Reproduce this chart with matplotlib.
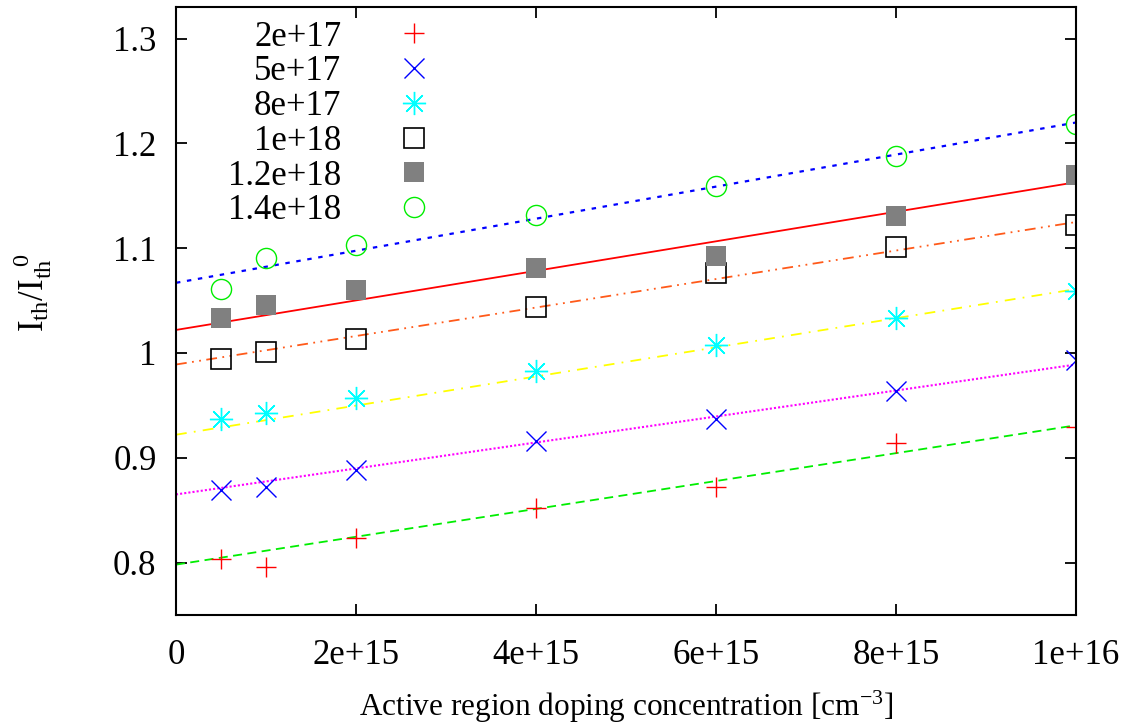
import numpy as np
import matplotlib
matplotlib.use('Agg')
import matplotlib.pyplot as plt
from matplotlib.ticker import FixedLocator

plt.rcParams['font.family'] = 'Liberation Serif'
plt.rcParams['mathtext.fontset'] = 'custom'
plt.rcParams['mathtext.rm'] = 'Liberation Serif'
plt.rcParams['mathtext.it'] = 'Liberation Serif'

# doping of active region [cm^-3]
doping = [5e14, 1e15, 2e15, 4e15, 6e15, 8e15, 1e16]

# Ith/Ith0 for each cladding doping
labels = ['2e+17', '5e+17', '8e+17', '1e+18', '1.2e+18', '1.4e+18']
ratio_2e17 = [0.803, 0.796, 0.823, 0.852, 0.872, 0.914, 0.929]
ratio_5e17 = [0.869, 0.872, 0.888, 0.916, 0.937, 0.964, 0.993]
ratio_8e17 = [0.937, 0.943, 0.957, 0.983, 1.008, 1.033, 1.059]
ratio_1e18 = [0.994, 1.001, 1.013, 1.044, 1.076, 1.101, 1.122]
ratio_12e18 = [1.033, 1.046, 1.060, 1.081, 1.093, 1.131, 1.170]
ratio_14e18 = [1.061, 1.091, 1.103, 1.132, 1.159, 1.188, 1.219]

# linear fits: value at x=0 and at x=1e16
fit_x = [0, 1e16]
fit_2e17 = [0.798, 0.931]
fit_5e17 = [0.865, 0.989]
fit_8e17 = [0.922, 1.061]
fit_1e18 = [0.989, 1.125]
fit_12e18 = [1.022, 1.163]
fit_14e18 = [1.067, 1.220]

fig = plt.figure(figsize=(11.39, 7.26), dpi=100)
ax = fig.add_axes([0.1545, 0.153, 0.7902, 0.837])

# fit lines (no legend)
ax.plot(fit_x, fit_2e17, color='#00ee00', ls=(0, (5, 3)), lw=1.3)
ax.plot(fit_x, fit_5e17, color='#ff00ff', ls=(0, (1, 1)), lw=1.5)
ax.plot(fit_x, fit_8e17, color='#ffff00', ls=(0, (6, 4, 1, 4)), lw=1.3)
ax.plot(fit_x, fit_1e18, color='#ff5a1a', ls=(0, (6, 3, 1, 3, 1, 3)), lw=1.3)
ax.plot(fit_x, fit_12e18, color='#ff0000', ls='-', lw=1.3)
ax.plot(fit_x, fit_14e18, color='#0000ff', ls=(0, (2, 3)), lw=1.6)

# data points
ms = 14.5
ax.plot(doping, ratio_2e17, ls='none', marker='+', ms=ms, mew=1, color='#ff0000', label=labels[0])
ax.plot(doping, ratio_5e17, ls='none', marker='x', ms=ms, mew=1, color='#0000ff', label=labels[1])
ax.plot(doping, ratio_8e17, ls='none', marker=(8, 2, 0), ms=ms * 1.15, mew=1, color='#00ffff', label=labels[2])
ax.plot(doping, ratio_1e18, ls='none', marker='s', ms=ms, mew=1.2, mfc='none', color='black', label=labels[3])
ax.plot(doping, ratio_12e18, ls='none', marker='s', ms=ms, mew=0, color='#808080', label=labels[4])
ax.plot(doping, ratio_14e18, ls='none', marker='o', ms=ms, mew=1, mfc='none', color='#00ee00', label=labels[5])

ax.set_xlim(0, 1e16)
ax.set_ylim(0.75, 1.33)
xt = [0, 2e15, 4e15, 6e15, 8e15, 1e16]
ax.xaxis.set_major_locator(FixedLocator(xt))
ax.set_xticklabels(['0', '2e+15', '4e+15', '6e+15', '8e+15', '1e+16'])
yt = [0.8, 0.9, 1.0, 1.1, 1.2, 1.3]
ax.yaxis.set_major_locator(FixedLocator(yt))
ax.set_yticklabels(['0.8', '0.9', '1', '1.1', '1.2', '1.3'])
ax.tick_params(direction='in', length=8, width=1.3, labelsize=25,
               top=True, right=True)
ax.tick_params(axis='x', pad=17)
ax.tick_params(axis='y', pad=14)
for s in ax.spines.values():
    s.set_linewidth(1.5)

ax.set_xlabel(r'Active region doping concentration [cm$^{-3}$]', fontsize=22.5)
ax.xaxis.set_label_coords(0.5, -0.122)
ax.set_ylabel(r'$\mathregular{I_{th}/I_{th}^{\ \ 0}}$', fontsize=25)
ax.yaxis.set_label_coords(-0.135, 0.53)

leg = ax.legend(loc='upper right', bbox_to_anchor=(0.284, 0.978), frameon=False,
                markerfirst=False, fontsize=25, handletextpad=1.6,
                labelspacing=0.05, borderaxespad=0, borderpad=0,
                handlelength=1.0)
for t in leg.get_texts():
    t.set_ha('right')
leg._legend_box.align = 'right'

fig.savefig('out.png', dpi=100)
